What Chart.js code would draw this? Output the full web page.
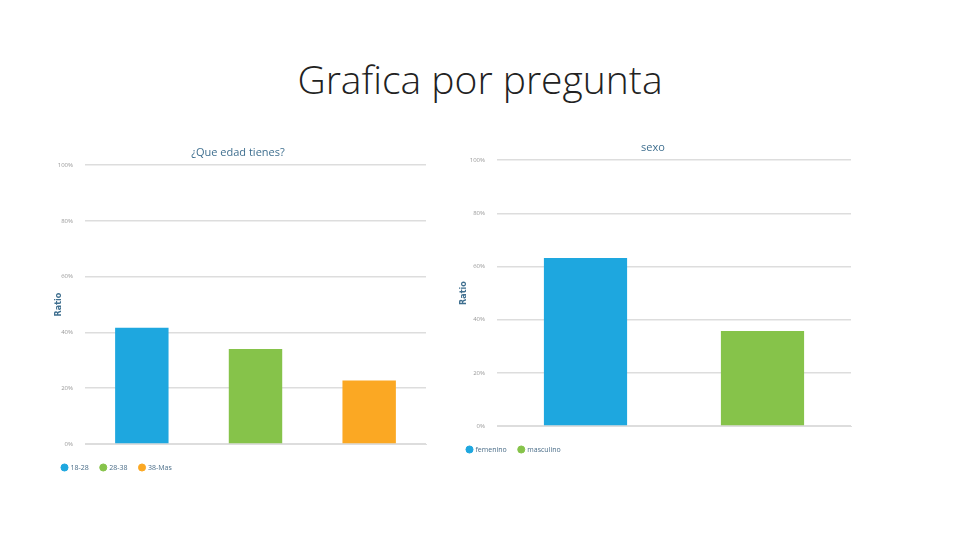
<!DOCTYPE html>
<html><head><meta charset="utf-8">
<script src="https://cdn.jsdelivr.net/npm/chart.js@4"></script>
<style>
body{margin:0;width:960px;height:540px;background:#fff;position:relative;overflow:hidden;font-family:"Open Sans",sans-serif}
#t{position:absolute;top:52px;left:0;width:960px;text-align:center;font-size:39px;font-weight:300;color:#222;font-family:"Open Sans","Liberation Sans",sans-serif}
.c{position:absolute}
</style></head><body>
<div id="t">Grafica por pregunta</div>
<div class="c" style="left:50px;top:146px;width:380px;height:335px"><canvas id="a"></canvas></div>
<div class="c" style="left:455px;top:141px;width:400px;height:322px"><canvas id="b"></canvas></div>
<script>
const ageTitle="¿Que edad tienes?";
const ageLabels=["18-28","28-38","38-Mas"];
const ageValues=[41.7,34.1,22.8];
const ageColors=["#1ea7df","#86c34a","#fba823"];
const sexTitle="sexo";
const sexLabels=["femenino","masculino"];
const sexValues=[63.2,35.7];
const sexColors=["#1ea7df","#86c34a"];
const yTicks=[0,20,40,60,80,100];

function make(id,title,labels,values,colors,yw){
  new Chart(document.getElementById(id),{type:'bar',
    data:{labels:labels,datasets:[{data:values,backgroundColor:colors,barPercentage:0.94,categoryPercentage:0.5}]},
    options:{responsive:true,maintainAspectRatio:false,animation:false,
      layout:{padding:{right:4}},
      plugins:{
        title:{display:true,text:title,color:'#3f6f8f',font:{family:'Open Sans',size:11,weight:'normal'},padding:{top:0,bottom:6}},
        tooltip:{enabled:false},
        legend:{position:'bottom',align:'start',labels:{boxWidth:5,boxHeight:5,usePointStyle:true,pointStyle:'circle',color:'#4a6d88',font:{family:'Open Sans',size:7},padding:12,
          generateLabels:()=>labels.map((l,i)=>({text:l,fillStyle:colors[i],strokeStyle:colors[i],pointStyle:'circle',fontColor:'#4a6d88'}))}}
      },
      scales:{
        x:{grid:{display:false},border:{color:'#ddd'},ticks:{display:false}},
        y:{min:0,max:100,afterBuildTicks:s=>{s.ticks=yTicks.map(v=>({value:v}));},
          afterFit:s=>{s.width=yw;},
          grid:{color:'#ddd',lineWidth:1.5,drawTicks:false},border:{display:false},
          ticks:{callback:v=>v+'%',color:'#999',font:{family:'Open Sans',size:6},padding:12},
          title:{display:true,text:'Ratio',color:'#3f6f8f',font:{family:'DejaVu Sans',size:8,weight:'bold'}}}
      }}});
}
make('a',ageTitle,ageLabels,ageValues,ageColors,35);
make('b',sexTitle,sexLabels,sexValues,sexColors,42);
</script></body></html>
